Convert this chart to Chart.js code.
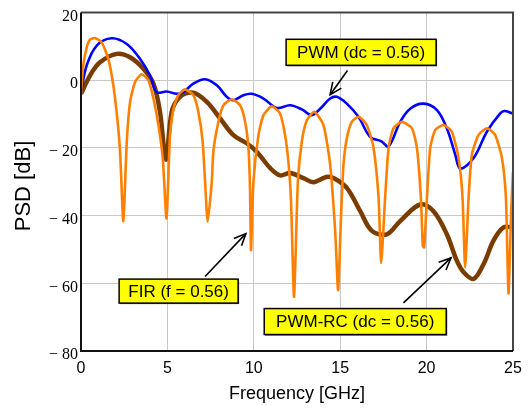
<!DOCTYPE html>
<html>
<head>
<meta charset="utf-8">
<script src="https://cdn.jsdelivr.net/npm/chart.js@4/dist/chart.umd.min.js"></script>
<style>
  html, body { margin: 0; padding: 0; background: #ffffff; }
  canvas { display: block; }
</style>
</head>
<body>
<canvas id="c" width="532" height="409"></canvas>
<script>
// ---- Data ----
const xTicks = [0, 5, 10, 15, 20, 25];
const yTicks = [20, 0, -20, -40, -60, -80];

// PWM (dc = 0.56) - blue
const pwmFreq = [0, 0.33, 0.9, 1.78, 2.65, 3.42, 4.0, 4.38, 4.96, 5.54, 5.92, 6.5, 7.18, 7.86, 8.44, 8.82, 9.4, 9.88, 10.56, 11.33, 12.1, 12.78, 13.36, 13.84, 14.42, 14.8, 15.38, 16.06, 16.73, 17.41, 17.8, 18.47, 19.05, 19.82, 20.6, 21.17, 21.66, 21.95, 22.72, 23.49, 24.26, 24.5, 25];
const pwmDb   = [-3.5, 4.4, 10.2, 12.4, 10.7, 6.3, 1.4, -3.5, -3.3, -4.0, -3.5, -1.0, 0.3, -1.5, -4.9, -5.9, -4.4, -4.0, -5.4, -8.2, -7.4, -8.6, -10.3, -8.4, -5.4, -4.9, -6.9, -10.8, -16.7, -18.1, -19.6, -12.3, -8.4, -6.9, -8.8, -14.2, -22, -26.1, -23, -15.2, -9.8, -9.1, -9.8];

// PWM-RC (dc = 0.56) - brown
const rcFreq = [0, 0.52, 1.1, 2.07, 2.84, 3.61, 4.19, 4.57, 4.92, 5.25, 5.73, 6.5, 7.28, 8.05, 8.82, 9.59, 10.17, 10.94, 11.52, 12.1, 12.87, 13.45, 14.2, 14.61, 15.38, 16.16, 16.83, 17.7, 18.47, 19.63, 20.4, 21.17, 21.75, 22.14, 22.72, 23.3, 23.87, 24.45, 25];
const rcDb   = [-4, 1.4, 5.3, 7.8, 6.8, 3.4, -1.0, -9.3, -23.5, -9.3, -4.9, -3.7, -6.4, -11.3, -16.2, -18.6, -21.1, -25.9, -28.1, -27.4, -28.9, -30.1, -28.6, -28.9, -31.8, -38.7, -44.5, -45.5, -41.6, -36.7, -38.7, -45.5, -53.3, -56.7, -58.7, -54.3, -47.4, -43.5, -43.5];

// FIR (f = 0.56) - orange
const firFreq = [0, 0.13, 0.33, 0.52, 0.81, 1.2, 1.58, 1.87, 2.1, 2.26, 2.45,
  2.65, 2.84, 3.13, 3.51, 3.9, 4.19, 4.48, 4.73, 4.95,
  5.15, 5.35, 5.63, 6.02, 6.5, 6.79, 7.04, 7.18, 7.33,
  7.57, 7.66, 7.95, 8.24, 8.73, 9.21, 9.5, 9.69, 9.78, 9.84,
  9.98, 10.27, 10.56, 11.04, 11.52, 11.81, 12.0, 12.15, 12.33,
  12.55, 12.78, 13.07, 13.5, 14.03, 14.42, 14.71, 14.88,
  15.05, 15.19, 15.38, 15.67, 16.06, 16.54, 16.93, 17.22, 17.37,
  17.6, 17.8, 18.08, 18.57, 19.15, 19.44, 19.67, 19.78, 19.86,
  20.02, 20.21, 20.5, 20.98, 21.46, 21.85, 22.08, 22.23,
  22.43, 22.62, 23.0, 23.49, 23.97, 24.36, 24.59, 24.74, 24.9, 25.0];
const firDb = [-4, 4.4, 9.7, 12, 12.5, 11.2, 6.3, -1.5, -11.3, -21, -41.6,
  -18.1, -6.4, -0.5, 1.8, 0, -5.4, -13.2, -23, -40.8,
  -16.2, -8.4, -4.4, -2.7, -4.4, -9.3, -18.1, -29.9, -41.8,
  -29.9, -21, -12.3, -7.4, -5.6, -7.4, -12.3, -20, -32, -50.2,
  -29.9, -16.2, -10.3, -7.7, -9.8, -16.2, -24, -35, -64,
  -30, -18.1, -11.8, -9.3, -13.2, -25, -44.5, -62,
  -40, -25, -17.2, -12.3, -10.8, -13.2, -20, -34.7, -54,
  -34.7, -20, -14.2, -12.3, -14.2, -20, -34.7, -49, -49.4,
  -34.7, -20, -14.7, -13.2, -15.2, -23, -34.7, -55.3,
  -34.7, -22, -16.2, -14.2, -16.2, -23, -34.7, -63, -38, -27];

// Callout labels (anchor positions in data units: GHz, dB)
const noteTexts = ['PWM (dc = 0.56)', 'FIR (f = 0.56)', 'PWM-RC (dc = 0.56)'];
const noteBoxX  = [16.21, 5.65, 15.87];
const noteBoxY  = [8.27, -62.3, -71.3];
const noteTailX = [15.42, 7.18, 18.66];
const noteTailY = [2.9, -58.0, -65.8];
const noteHeadX = [14.42, 9.54, 21.41];
const noteHeadY = [-4.25, -45.3, -52.5];
// callout box sizes in pixels (style)
const noteBoxW = [150, 119, 182];
const noteBoxH = [26, 24, 26];

const toPts = (xs, ys) => xs.map((x, i) => ({ x: x, y: ys[i] }));

const decorPlugin = {
  id: 'decor',
  afterDatasetsDraw(chart) {
    const ctx = chart.ctx;
    const a = chart.chartArea;
    const xs = chart.scales.x, ys = chart.scales.y;
    ctx.save();
    // frame
    ctx.lineWidth = 2;
    ctx.strokeStyle = '#444444';
    ctx.beginPath();
    ctx.moveTo(a.left, a.top); ctx.lineTo(a.right, a.top); ctx.lineTo(a.right, a.bottom);
    ctx.stroke();
    ctx.strokeStyle = '#111111';
    ctx.beginPath();
    ctx.moveTo(a.left, a.top); ctx.lineTo(a.left, a.bottom); ctx.lineTo(a.right, a.bottom);
    ctx.stroke();

    // callouts
    ctx.font = '17px "Liberation Sans", Arial, sans-serif';
    for (let i = 0; i < noteTexts.length; i++) {
      const tx = xs.getPixelForValue(noteTailX[i]), ty = ys.getPixelForValue(noteTailY[i]);
      const hx = xs.getPixelForValue(noteHeadX[i]), hy = ys.getPixelForValue(noteHeadY[i]);
      ctx.strokeStyle = '#000000';
      ctx.lineWidth = 1.6;
      ctx.beginPath(); ctx.moveTo(tx, ty); ctx.lineTo(hx, hy); ctx.stroke();
      const ang = Math.atan2(hy - ty, hx - tx);
      const L = 13, sp = 0.42;
      ctx.beginPath();
      ctx.moveTo(hx - L * Math.cos(ang - sp), hy - L * Math.sin(ang - sp));
      ctx.lineTo(hx, hy);
      ctx.lineTo(hx - L * Math.cos(ang + sp), hy - L * Math.sin(ang + sp));
      ctx.stroke();
      const cx = xs.getPixelForValue(noteBoxX[i]), cy = ys.getPixelForValue(noteBoxY[i]);
      const w = noteBoxW[i], h = noteBoxH[i];
      ctx.fillStyle = '#555555';
      ctx.fillRect(cx - w / 2 + 1, cy - h / 2 + 1, w, h);
      ctx.fillStyle = '#ffff00';
      ctx.fillRect(cx - w / 2, cy - h / 2, w, h);
      ctx.lineWidth = 1.5;
      ctx.strokeStyle = '#000000';
      ctx.strokeRect(cx - w / 2, cy - h / 2, w, h);
      ctx.fillStyle = '#000000';
      ctx.textAlign = 'center';
      ctx.textBaseline = 'middle';
      ctx.fillText(noteTexts[i], cx, cy + 1);
    }

    // axis titles
    ctx.fillStyle = '#000000';
    ctx.textAlign = 'center';
    ctx.textBaseline = 'middle';
    ctx.font = '18px "Liberation Sans", Arial, sans-serif';
    ctx.fillText('Frequency [GHz]', (a.left + a.right) / 2 + 0, 394);
    ctx.save();
    ctx.translate(24, 186);
    ctx.rotate(-Math.PI / 2);
    ctx.font = '22px "Liberation Sans", Arial, sans-serif';
    ctx.fillText('PSD [dB]', 0, 0);
    ctx.restore();
    ctx.restore();
  }
};

new Chart(document.getElementById('c'), {
  type: 'line',
  data: {
    datasets: [
      { label: 'FIR (f = 0.56)', data: toPts(firFreq, firDb), borderColor: '#ff8000', borderWidth: 2.6, pointRadius: 0, tension: 0.2, fill: false },
      { label: 'PWM (dc = 0.56)', data: toPts(pwmFreq, pwmDb), borderColor: '#0000ff', borderWidth: 2.6, pointRadius: 0, tension: 0.35, fill: false },
      { label: 'PWM-RC (dc = 0.56)', data: toPts(rcFreq, rcDb), borderColor: '#7a3c00', borderWidth: 4.5, pointRadius: 0, tension: 0.35, fill: false }
    ]
  },
  options: {
    responsive: false,
    animation: false,
    layout: { padding: { left: 0, top: 10, right: 19, bottom: 0 } },
    plugins: { legend: { display: false }, tooltip: { enabled: false } },
    scales: {
      x: {
        type: 'linear', min: 0, max: 25,
        afterFit(s) { s.height = 58; },
        afterBuildTicks(s) { s.ticks = xTicks.map(v => ({ value: v })); },
        grid: { color: '#c8c8c8', lineWidth: 1, drawTicks: false },
        border: { display: false },
        ticks: { color: '#000000', padding: 8, font: { family: '"Liberation Sans", Arial, sans-serif', size: 16 }, maxRotation: 0 }
      },
      y: {
        min: -80, max: 20,
        afterFit(s) { s.width = 81; },
        afterBuildTicks(s) { s.ticks = yTicks.map(v => ({ value: v })); },
        grid: { color: '#c8c8c8', lineWidth: 1, drawTicks: false },
        border: { display: false },
        ticks: {
          color: '#000000', padding: 3, labelOffset: 4,
          font: { family: '"Liberation Serif", "Times New Roman", serif', size: 16 },
          callback: v => (v < 0 ? '\u2212 ' + Math.abs(v) : String(v))
        }
      }
    }
  },
  plugins: [decorPlugin]
});
</script>
</body>
</html>
